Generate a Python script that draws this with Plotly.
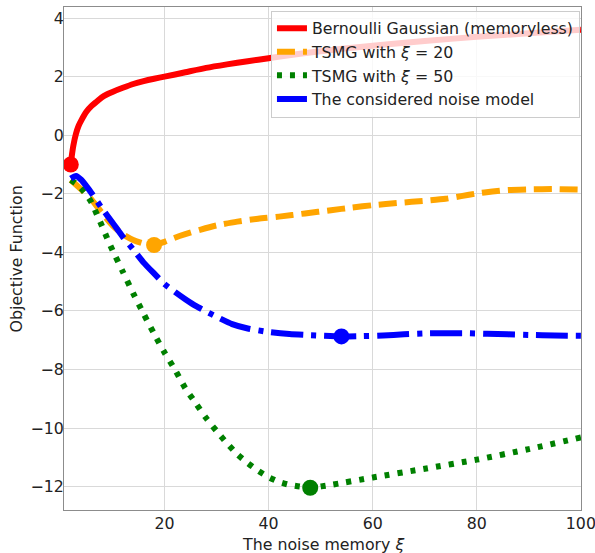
import plotly.graph_objects as go

# Bernoulli Gaussian (memoryless)
bg_x = [2, 2.2, 2.5, 3, 3.5, 4, 5, 6, 7, 8, 9, 10, 12, 14, 16, 18, 20, 24, 28, 32,
        36, 40, 45, 50, 55, 60, 70, 80, 90, 100]
bg_y = [-1.0, -0.7, -0.35, 0.05, 0.32, 0.5, 0.8, 1.0, 1.15, 1.3, 1.4, 1.48, 1.62, 1.75,
        1.85, 1.93, 2.0, 2.15, 2.3, 2.42, 2.53, 2.63, 2.76, 2.87, 2.97, 3.06, 3.22, 3.36,
        3.48, 3.6]

# TSMG with xi = 20
t20_x = [2, 4, 6, 8, 10, 12, 14, 16, 18, 20, 22, 24, 27, 30, 34, 38, 42, 47, 52, 56,
         60, 65, 70, 74, 77, 80, 83, 86, 90, 95, 100]
t20_y = [-1.53, -1.85, -2.2, -2.65, -3.08, -3.38, -3.58, -3.7, -3.75, -3.64, -3.5, -3.38,
         -3.22, -3.08, -2.95, -2.85, -2.78, -2.67, -2.56, -2.47, -2.39, -2.31, -2.24,
         -2.17, -2.08, -1.99, -1.92, -1.87, -1.85, -1.84, -1.86]

# TSMG with xi = 50
t50_x = [2, 3, 4, 5, 6, 7, 8, 9, 10, 12, 14, 16, 18, 20, 22, 24, 26, 28, 30, 32, 34,
         36, 38, 40, 42, 44, 46, 48, 52, 60, 70, 80, 90, 100]
t50_y = [-1.53, -1.65, -1.82, -2.03, -2.3, -2.7, -3.1, -3.52, -3.92, -4.66, -5.4, -6.1,
         -6.78, -7.42, -8.0, -8.64, -9.15, -9.66, -10.1, -10.52, -10.9, -11.2, -11.46,
         -11.68, -11.84, -11.94, -12.0, -12.04, -11.94, -11.69, -11.39, -11.08, -10.72,
         -10.32]

# The considered noise model
cm_x = [2, 3, 4, 5, 6, 8, 10, 12, 14, 16, 18, 20, 22, 24, 26, 28, 30, 33, 36, 40, 44,
        48, 54, 58, 62, 66, 70, 74, 78, 82, 86, 90, 95, 100]
cm_y = [-1.48, -1.39, -1.52, -1.74, -1.98, -2.5, -2.98, -3.47, -3.9, -4.35, -4.72, -5.08,
        -5.35, -5.6, -5.83, -6.02, -6.2, -6.45, -6.6, -6.72, -6.79, -6.83, -6.87, -6.86,
        -6.84, -6.8, -6.77, -6.76, -6.76, -6.78, -6.8, -6.82, -6.84, -6.85]

# Highlighted points (start / minima)
mark_x = {"bg": 2, "t20": 18, "t50": 48, "cm": 54}
mark_y = {"bg": -1.0, "t20": -3.75, "t50": -12.04, "cm": -6.87}

x_ticks = [20, 40, 60, 80, 100]
y_ticks = [-12, -10, -8, -6, -4, -2, 0, 2, 4]

series = [
    ("bg", bg_x, bg_y, "red", "solid", "Bernoulli Gaussian (memoryless)"),
    ("t20", t20_x, t20_y, "orange", "18px,8px", "TSMG with <i>ξ</i> = 20"),
    ("t50", t50_x, t50_y, "green", "5px,8px", "TSMG with <i>ξ</i> = 50"),
    ("cm", cm_x, cm_y, "blue", "32px,8px,5px,8px", "The considered noise model"),
]

FONT = "DejaVu Sans"
FS = 15.8
TXT = "#222222"

fig = go.Figure()
for key, xs, ys, color, dash, name in series:
    fig.add_trace(go.Scatter(
        x=xs, y=ys, mode="lines", name=name,
        line=dict(color=color, width=6, dash=dash, shape="spline", smoothing=0.6),
    ))
    fig.add_trace(go.Scatter(
        x=[mark_x[key]], y=[mark_y[key]], mode="markers", showlegend=False,
        marker=dict(color=color, size=16, line=dict(width=0)),
    ))

axis_common = dict(
    showgrid=True, gridcolor="#d9d9d9", gridwidth=1,
    showline=True, linecolor="#8c8c8c", linewidth=1, mirror=True,
    ticks="", zeroline=False, automargin=False, ticklabeloverflow="allow",
    tickfont=dict(family=FONT, size=FS, color=TXT),
)

fig.update_layout(
    width=595, height=553,
    margin=dict(l=64, r=14, t=7, b=43),
    paper_bgcolor="white", plot_bgcolor="white",
    font=dict(family=FONT, size=FS, color=TXT),
    xaxis=dict(range=[0.7, 100.02], tickvals=x_ticks, ticklabelstandoff=-1,
               **axis_common),
    yaxis=dict(range=[-12.8, 4.38], tickvals=y_ticks, ticklabelstandoff=-4,
               **axis_common),
    legend=dict(
        x=0.998, y=0.993, xanchor="right", yanchor="top",
        bgcolor="rgba(255,255,255,0.8)", bordercolor="#cccccc", borderwidth=1,
        font=dict(family=FONT, size=FS, color=TXT),
        tracegroupgap=0,
    ),
    annotations=[
        dict(text="The noise memory <i>ξ</i>", xref="paper", yref="paper",
             x=0.5, y=-0.069, xanchor="center", yanchor="middle",
             showarrow=False, font=dict(family=FONT, size=FS, color=TXT)),
        dict(text="Objective Function", xref="paper", yref="paper",
             x=-0.091, y=0.5, xanchor="center", yanchor="middle", textangle=-90,
             showarrow=False, font=dict(family=FONT, size=FS, color=TXT)),
    ],
)

fig.write_html("out.html")
